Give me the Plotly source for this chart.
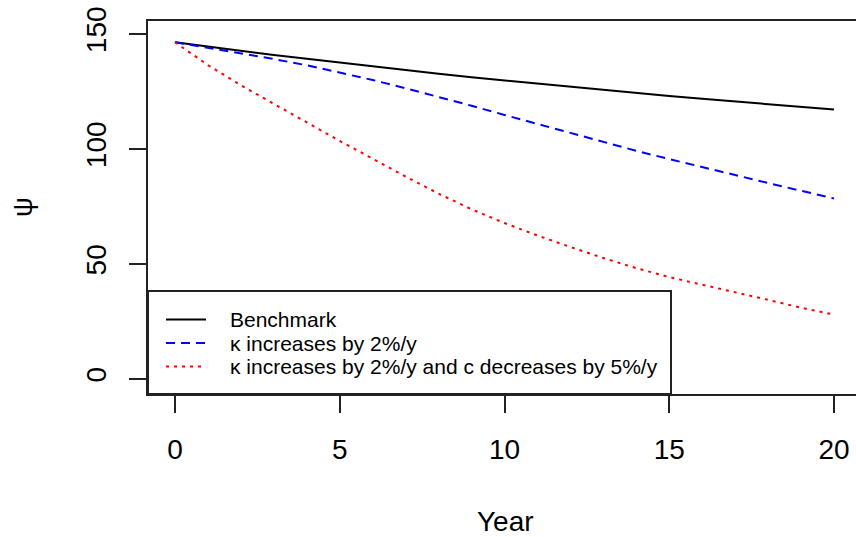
import plotly.graph_objects as go

years = list(range(0, 21))
benchmark = [146.4, 144.5, 142.7, 140.9, 139.2, 137.5, 135.9, 134.3, 132.7, 131.2, 129.8,
             128.4, 127.0, 125.6, 124.3, 123.0, 121.8, 120.6, 119.4, 118.3, 117.2]
kappa_up = [146.4, 144.0, 141.6, 139.1, 136.4, 133.3, 130.0, 126.4, 122.7, 118.8, 114.8,
            110.9, 107.0, 103.0, 99.2, 95.6, 92.3, 88.7, 85.2, 81.8, 78.5]
kappa_up_c_down = [146.4, 136.5, 127.7, 119.6, 111.3, 103.5, 95.8, 88.0, 80.6, 73.8, 67.8,
                   62.4, 57.4, 52.6, 48.2, 44.3, 41.0, 37.8, 34.4, 31.0, 28.0]

names = ["Benchmark", "κ increases by 2%/y", "κ increases by 2%/y and c decreases by 5%/y"]
x_ticks = [0, 5, 10, 15, 20]
y_ticks = [0, 50, 100, 150]

colors = ["black", "blue", "red"]
dashes = ["solid", "9px,6px", "3px,5px"]
series = [benchmark, kappa_up, kappa_up_c_down]

FONT = "Liberation Sans, Arial, sans-serif"

fig = go.Figure()
for s, n, c, d in zip(series, names, colors, dashes):
    fig.add_trace(go.Scatter(x=years, y=s, mode="lines", name=n,
                             line=dict(color=c, width=2, dash=d), showlegend=False))

W, H = 856, 537
L, R, T, B = 148, 0, 21, 143
pw, ph = W - L - R, H - T - B

def px_x(p):
    return (p - L) / pw

def px_y(p):
    return (H - B - p) / ph

shapes = []
annotations = []
# legend box
shapes.append(dict(type="rect", xref="paper", yref="paper", x0=0, x1=px_x(671),
                   y0=0, y1=px_y(291), line=dict(color="#222", width=2),
                   fillcolor="white", layer="above"))
rows = [319.5, 343.0, 366.5]
for n, c, d, ry in zip(names, colors, dashes, rows):
    shapes.append(dict(type="line", xref="paper", yref="paper", x0=px_x(166), x1=px_x(206),
                       y0=px_y(ry), y1=px_y(ry), line=dict(color=c, width=2, dash=d),
                       layer="above"))
    annotations.append(dict(xref="paper", yref="paper", x=px_x(228), y=px_y(ry),
                            text=n, showarrow=False, xanchor="left", yanchor="middle",
                            font=dict(family=FONT, size=21, color="black")))

annotations.append(dict(xref="paper", yref="paper", x=px_x(505), y=px_y(521),
                        text="Year", showarrow=False, xanchor="center", yanchor="middle",
                        font=dict(family=FONT, size=28, color="black")))
annotations.append(dict(xref="paper", yref="paper", x=px_x(22), y=px_y(207),
                        text="ψ", showarrow=False, xanchor="center", yanchor="middle",
                        textangle=-90, font=dict(family=FONT, size=28, color="black")))

fig.update_layout(
    width=W, height=H,
    margin=dict(l=L, r=R, t=T, b=B, pad=0),
    paper_bgcolor="white", plot_bgcolor="white",
    font=dict(family=FONT, size=28, color="black"),
    shapes=shapes, annotations=annotations,
    showlegend=False,
)
fig.update_xaxes(range=[(L - 175) / 32.95, (W - 175) / 32.95],
                 tickvals=x_ticks, ticktext=[str(v) for v in x_ticks],
                 ticks="outside", ticklen=17, tickwidth=2, tickcolor="#222",
                 showline=True, linecolor="#222", linewidth=2, mirror=True,
                 showgrid=False, zeroline=False, ticklabelstandoff=12,
                 tickfont=dict(family=FONT, size=28, color="black"))
fig.update_yaxes(range=[-6.52, 155.65],
                 tickvals=y_ticks, ticktext=[str(v) for v in y_ticks],
                 ticks="outside", ticklen=17, tickwidth=2, tickcolor="#222",
                 showline=True, linecolor="#222", linewidth=2, mirror=False,
                 showgrid=False, zeroline=False, tickangle=-90, ticklabelstandoff=12,
                 tickfont=dict(family=FONT, size=28, color="black"))

fig.write_html("out.html", config={"displayModeBar": False},
               post_script="document.body.style.margin='0';document.body.style.overflow='hidden';")
